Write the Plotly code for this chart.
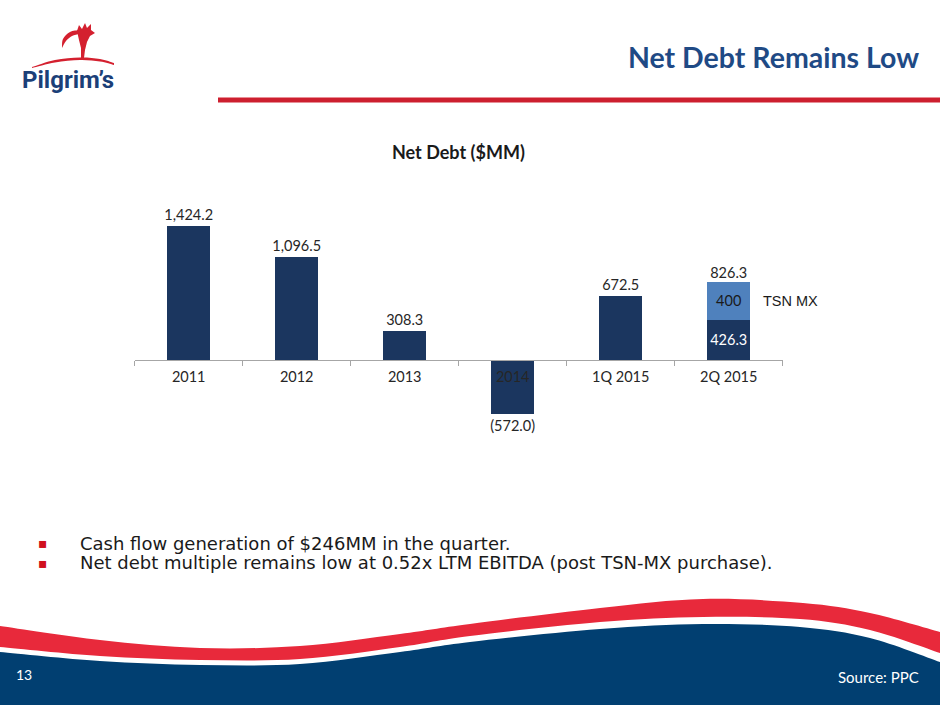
import plotly.graph_objects as go

# --- data ---
categories = ["2011", "2012", "2013", "2014", "1Q 2015", "2Q 2015"]
net_debt = [1424.2, 1096.5, 308.3, -572.0, 672.5, 426.3]
tsn_mx = [None, None, None, None, None, 400]

bullets = [
    "Cash flow generation of $246MM in the quarter.",
    "Net debt multiple remains low at 0.52x LTM EBITDA (post TSN-MX purchase).",
]

W, H = 940, 705
NAVY_BAR = "#1b365f"
LIGHT_BAR = "#4f81bd"
RED = "#e8293b"
NAVY = "#013f71"
LABEL_FONT = "Lato, Calibri, sans-serif"


def X(px):
    return px / W


def Y(py):
    return 1 - py / H


def fmt(v):
    return f"{v:,.1f}" if v >= 0 else f"({-v:,.1f})"


# plot area in pixels and value range
plot_left, plot_right = 134.7, 782.7
plot_top, plot_bottom = 190.3, 435.0
y_range = [-800, 1800]
y_dom = [Y(plot_bottom), Y(plot_top)]
zero_pos = y_dom[0] + (0 - y_range[0]) / (y_range[1] - y_range[0]) * (y_dom[1] - y_dom[0])

fig = go.Figure()

main_pos = ["outside"] * (len(categories) - 1) + ["inside"]
fig.add_trace(go.Bar(
    x=categories, y=net_debt,
    marker=dict(color=NAVY_BAR, line=dict(width=0)),
    text=[fmt(v) for v in net_debt],
    textposition=main_pos,
    textangle=0,
    constraintext="none",
    insidetextanchor="middle",
    outsidetextfont=dict(family=LABEL_FONT, size=14.5, color="#262626"),
    insidetextfont=dict(family=LABEL_FONT, size=14.5, color="white"),
    cliponaxis=False,
    hoverinfo="skip",
))
fig.add_trace(go.Bar(
    x=categories, y=tsn_mx,
    marker=dict(color=LIGHT_BAR, line=dict(width=0)),
    text=[f"{v:g}" if v is not None else "" for v in tsn_mx],
    textposition="inside",
    textangle=0,
    constraintext="none",
    insidetextanchor="middle",
    insidetextfont=dict(family=LABEL_FONT, size=14.5, color="#1a1a1a"),
    cliponaxis=False,
    hoverinfo="skip",
))

# stacked total for 2Q 2015
total = net_debt[-1] + tsn_mx[-1]
fig.add_trace(go.Scatter(
    x=[categories[-1]], y=[total],
    mode="text", text=[fmt(total)], textposition="top center",
    textfont=dict(family=LABEL_FONT, size=14.5, color="#262626"),
    cliponaxis=False, hoverinfo="skip",
))


# --- decorative slide shapes ---
def smooth_path(pts):
    # Catmull-Rom through pixel points -> cubic bezier in paper coords
    d = f"M {X(pts[0][0]):.5f},{Y(pts[0][1]):.5f}"
    for i in range(len(pts) - 1):
        p0 = pts[i - 1] if i > 0 else pts[i]
        p1, p2 = pts[i], pts[i + 1]
        p3 = pts[i + 2] if i + 2 < len(pts) else p2
        c1 = (p1[0] + (p2[0] - p0[0]) / 6, p1[1] + (p2[1] - p0[1]) / 6)
        c2 = (p2[0] - (p3[0] - p1[0]) / 6, p2[1] - (p3[1] - p1[1]) / 6)
        d += (f" C {X(c1[0]):.5f},{Y(c1[1]):.5f} {X(c2[0]):.5f},{Y(c2[1]):.5f}"
              f" {X(p2[0]):.5f},{Y(p2[1]):.5f}")
    return d


def line_to(pts):
    return "".join(f" L {X(x):.5f},{Y(y):.5f}" for x, y in pts)


red_top = [(0, 626), (100, 640), (200, 648), (300, 646), (400, 634), (470, 624),
           (600, 608), (703, 599), (803, 603), (870, 613), (940, 632)]
red_bot = [(0, 647), (100, 656), (200, 660), (300, 659), (400, 647), (470, 636),
           (600, 622), (703, 617), (800, 619), (870, 630), (940, 653)]
navy_top = [(0, 652), (100, 661), (200, 665), (300, 664), (400, 652), (470, 642),
            (600, 629), (703, 624), (800, 627), (870, 638), (940, 662)]

red_path = smooth_path(red_top) + " L" + smooth_path(red_bot[::-1])[1:] + " Z"
navy_path = smooth_path(navy_top) + line_to([(940, 705), (0, 705)]) + " Z"

arc_path = smooth_path([(32, 67), (55, 60), (80, 57.5), (100, 59), (114, 63)]) + \
    " L" + smooth_path([(114, 65), (100, 61.5), (80, 60), (55, 62.5), (32, 68)])[1:] + " Z"

# rooster: crescent wing plus head/comb and neck
wing = smooth_path([(62, 48), (63, 39), (70, 32), (79, 30)]) + \
    " L" + smooth_path([(79, 34), (72, 36), (66, 41), (62, 48)])[1:] + " Z"
head = smooth_path([(77, 31), (79, 25)]) + line_to(
    [(82, 29), (85, 23), (87, 28), (91, 24), (91, 30), (95, 33), (90, 36), (87, 42),
     (85, 50), (84, 58), (81, 58), (81, 48), (79, 40)]) + " Z"

shapes = [
    dict(type="path", path=navy_path, xref="paper", yref="paper",
         fillcolor=NAVY, line=dict(width=0), layer="below"),
    dict(type="path", path=red_path, xref="paper", yref="paper",
         fillcolor=RED, line=dict(width=0), layer="below"),
    # header rule
    dict(type="rect", xref="paper", yref="paper", x0=X(218), x1=1, y0=Y(102.5), y1=Y(98),
         fillcolor="#cd1f2f", line=dict(width=0)),
    dict(type="rect", xref="paper", yref="paper", x0=X(218), x1=1, y0=Y(98), y1=Y(97),
         fillcolor="#ea8e96", line=dict(width=0)),
    # logo
    dict(type="path", path=arc_path, xref="paper", yref="paper",
         fillcolor="#d4202f", line=dict(width=0)),
    dict(type="path", path=wing, xref="paper", yref="paper",
         fillcolor="#d4202f", line=dict(width=0)),
    dict(type="path", path=head, xref="paper", yref="paper",
         fillcolor="#d4202f", line=dict(width=0)),
]


def note(text, px, py, anchor="left", size=14, color="#1a1a1a", family=LABEL_FONT):
    return dict(text=text, x=X(px), y=Y(py), xref="paper", yref="paper",
                xanchor=anchor, yanchor="middle", showarrow=False,
                font=dict(family=family, size=size, color=color))


annotations = [
    note("<b>Net Debt Remains Low</b>", 921, 57, "right", 28.5, "#1f4a85"),
    note("<b>Pilgrim\u2019s</b>", 20, 80, "left", 24, "#1b3f78", "Roboto"),
    note("<b>Net Debt ($MM)</b>", (plot_left + plot_right) / 2, 152, "center", 18),
    dict(text="TSN MX", x=categories[-1], y=net_debt[-1] + tsn_mx[-1] / 2, xref="x", yref="y",
         xshift=62, xanchor="center", yanchor="middle", showarrow=False,
         font=dict(family="Liberation Sans, Arial", size=14.5, color="#1a1a1a")),
    note("13", 14, 674, "left", 14, "white"),
    note("Source: PPC", 921, 677, "right", 15, "white"),
]
for i, b in enumerate(bullets):
    yy = 543 + i * 19.5
    annotations.append(note("\u25aa", 43, yy, "center", 14, "#d0101e", "DejaVu Sans"))
    annotations.append(note(b, 78, yy, "left", 18, "#1a1a1a", "DejaVu Sans"))

fig.update_layout(
    width=W, height=H,
    margin=dict(l=0, r=0, t=0, b=0, pad=0),
    paper_bgcolor="white", plot_bgcolor="rgba(0,0,0,0)",
    barmode="stack", bargap=0.6,
    showlegend=False,
    xaxis=dict(
        domain=[X(plot_left), X(plot_right)],
        anchor="free", position=zero_pos,
        type="category", range=[-0.5, len(categories) - 0.5],
        showline=True, linecolor="#a6a6a6", linewidth=1,
        ticks="outside", tickson="boundaries", ticklen=5, tickcolor="#a6a6a6",
        ticklabelstandoff=4,
        tickfont=dict(family=LABEL_FONT, size=14.5, color="#262626"),
        showgrid=False, zeroline=False, fixedrange=True,
    ),
    yaxis=dict(
        domain=y_dom, range=y_range,
        visible=False, showgrid=False, zeroline=False, fixedrange=True,
    ),
    shapes=shapes,
    annotations=annotations,
)

# drop the browser's default page margin so the slide fills the window
fig.write_html("out.html", config={"displayModeBar": False},
               post_script="document.body.style.margin = '0';")
